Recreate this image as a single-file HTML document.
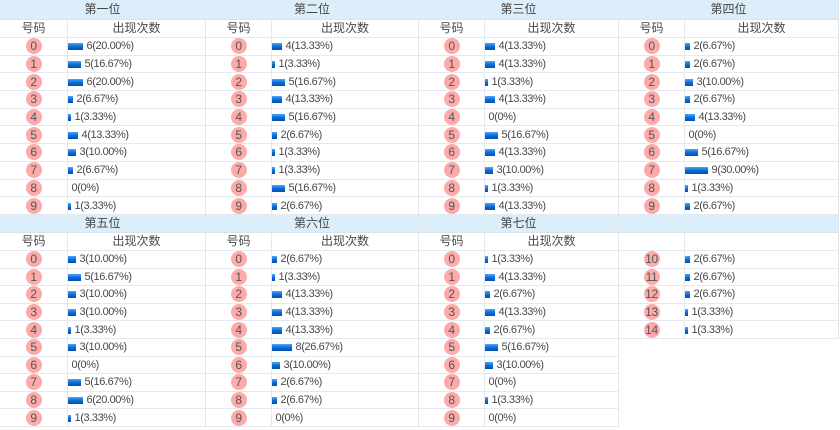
<!DOCTYPE html>
<html><head><meta charset="utf-8">
<style>
*{margin:0;padding:0}
html,body{width:840px;height:430px;background:#fff;overflow:hidden}
body{position:relative;font-family:"Liberation Sans","Noto Sans CJK SC",sans-serif;color:#484848}
.s{position:absolute;box-sizing:border-box;border-right:1px solid #dfe7ef}
.h{height:20px;background:#ddeefb;border-bottom:1px solid #d6e4ef;box-sizing:border-box;text-align:center;line-height:19px;font-size:12px;color:#444}
.b2 .h{height:18px;line-height:17px}
.c{height:18px;display:flex;border-bottom:1px solid #e2e9f0;box-sizing:border-box;font-size:12px;line-height:17px}
.c .n{justify-content:center}
.c .v{justify-content:center}
.r{height:17.7px;display:flex;border-bottom:1px solid #e2e9f0;box-sizing:border-box}
.b2 .r{height:17.6px}
.n{width:66px;flex:none;border-right:1px solid #e2e9f0;display:flex;align-items:center;justify-content:center;box-sizing:border-box}
.s1 .n{width:68px}
.n i{display:block;width:16px;height:16px;border-radius:50%;background:#fcaaaa;font-style:normal;font-size:12px;line-height:16px;text-align:center;color:#555;letter-spacing:-0.3px}
.v{flex:1;display:flex;align-items:center;font-size:11px;letter-spacing:-0.4px;white-space:nowrap}
.v b{display:block;height:7px;margin-top:1px;background:linear-gradient(#4aa6ff,#0b6cd8 50%,#0650a6)}
.v span{margin-left:3.5px}
</style></head><body>

<!-- Block 1 -->
<div class="s s1" style="left:0;top:0;width:206px">
<div class="h">第一位</div>
<div class="c"><div class="n">号码</div><div class="v" style="font-size:12px;letter-spacing:0">出现次数</div></div>
<div class="r"><div class="n"><i>0</i></div><div class="v"><b style="width:15px"></b><span>6(20.00%)</span></div></div>
<div class="r"><div class="n"><i>1</i></div><div class="v"><b style="width:13px"></b><span>5(16.67%)</span></div></div>
<div class="r"><div class="n"><i>2</i></div><div class="v"><b style="width:15px"></b><span>6(20.00%)</span></div></div>
<div class="r"><div class="n"><i>3</i></div><div class="v"><b style="width:5px"></b><span>2(6.67%)</span></div></div>
<div class="r"><div class="n"><i>4</i></div><div class="v"><b style="width:3px"></b><span>1(3.33%)</span></div></div>
<div class="r"><div class="n"><i>5</i></div><div class="v"><b style="width:10px"></b><span>4(13.33%)</span></div></div>
<div class="r"><div class="n"><i>6</i></div><div class="v"><b style="width:8px"></b><span>3(10.00%)</span></div></div>
<div class="r"><div class="n"><i>7</i></div><div class="v"><b style="width:5px"></b><span>2(6.67%)</span></div></div>
<div class="r"><div class="n"><i>8</i></div><div class="v"><b style="width:0px"></b><span>0(0%)</span></div></div>
<div class="r"><div class="n"><i>9</i></div><div class="v"><b style="width:3px"></b><span>1(3.33%)</span></div></div>
</div>

<div class="s" style="left:206px;top:0;width:213px">
<div class="h">第二位</div>
<div class="c"><div class="n">号码</div><div class="v" style="font-size:12px;letter-spacing:0">出现次数</div></div>
<div class="r"><div class="n"><i>0</i></div><div class="v"><b style="width:10px"></b><span>4(13.33%)</span></div></div>
<div class="r"><div class="n"><i>1</i></div><div class="v"><b style="width:3px"></b><span>1(3.33%)</span></div></div>
<div class="r"><div class="n"><i>2</i></div><div class="v"><b style="width:13px"></b><span>5(16.67%)</span></div></div>
<div class="r"><div class="n"><i>3</i></div><div class="v"><b style="width:10px"></b><span>4(13.33%)</span></div></div>
<div class="r"><div class="n"><i>4</i></div><div class="v"><b style="width:13px"></b><span>5(16.67%)</span></div></div>
<div class="r"><div class="n"><i>5</i></div><div class="v"><b style="width:5px"></b><span>2(6.67%)</span></div></div>
<div class="r"><div class="n"><i>6</i></div><div class="v"><b style="width:3px"></b><span>1(3.33%)</span></div></div>
<div class="r"><div class="n"><i>7</i></div><div class="v"><b style="width:3px"></b><span>1(3.33%)</span></div></div>
<div class="r"><div class="n"><i>8</i></div><div class="v"><b style="width:13px"></b><span>5(16.67%)</span></div></div>
<div class="r"><div class="n"><i>9</i></div><div class="v"><b style="width:5px"></b><span>2(6.67%)</span></div></div>
</div>

<div class="s" style="left:419px;top:0;width:200px">
<div class="h">第三位</div>
<div class="c"><div class="n">号码</div><div class="v" style="font-size:12px;letter-spacing:0">出现次数</div></div>
<div class="r"><div class="n"><i>0</i></div><div class="v"><b style="width:10px"></b><span>4(13.33%)</span></div></div>
<div class="r"><div class="n"><i>1</i></div><div class="v"><b style="width:10px"></b><span>4(13.33%)</span></div></div>
<div class="r"><div class="n"><i>2</i></div><div class="v"><b style="width:3px"></b><span>1(3.33%)</span></div></div>
<div class="r"><div class="n"><i>3</i></div><div class="v"><b style="width:10px"></b><span>4(13.33%)</span></div></div>
<div class="r"><div class="n"><i>4</i></div><div class="v"><b style="width:0px"></b><span>0(0%)</span></div></div>
<div class="r"><div class="n"><i>5</i></div><div class="v"><b style="width:13px"></b><span>5(16.67%)</span></div></div>
<div class="r"><div class="n"><i>6</i></div><div class="v"><b style="width:10px"></b><span>4(13.33%)</span></div></div>
<div class="r"><div class="n"><i>7</i></div><div class="v"><b style="width:8px"></b><span>3(10.00%)</span></div></div>
<div class="r"><div class="n"><i>8</i></div><div class="v"><b style="width:3px"></b><span>1(3.33%)</span></div></div>
<div class="r"><div class="n"><i>9</i></div><div class="v"><b style="width:10px"></b><span>4(13.33%)</span></div></div>
</div>

<div class="s" style="left:619px;top:0;width:220px">
<div class="h">第四位</div>
<div class="c"><div class="n">号码</div><div class="v" style="font-size:12px;letter-spacing:0">出现次数</div></div>
<div class="r"><div class="n"><i>0</i></div><div class="v"><b style="width:5px"></b><span>2(6.67%)</span></div></div>
<div class="r"><div class="n"><i>1</i></div><div class="v"><b style="width:5px"></b><span>2(6.67%)</span></div></div>
<div class="r"><div class="n"><i>2</i></div><div class="v"><b style="width:8px"></b><span>3(10.00%)</span></div></div>
<div class="r"><div class="n"><i>3</i></div><div class="v"><b style="width:5px"></b><span>2(6.67%)</span></div></div>
<div class="r"><div class="n"><i>4</i></div><div class="v"><b style="width:10px"></b><span>4(13.33%)</span></div></div>
<div class="r"><div class="n"><i>5</i></div><div class="v"><b style="width:0px"></b><span>0(0%)</span></div></div>
<div class="r"><div class="n"><i>6</i></div><div class="v"><b style="width:13px"></b><span>5(16.67%)</span></div></div>
<div class="r"><div class="n"><i>7</i></div><div class="v"><b style="width:23px"></b><span>9(30.00%)</span></div></div>
<div class="r"><div class="n"><i>8</i></div><div class="v"><b style="width:3px"></b><span>1(3.33%)</span></div></div>
<div class="r"><div class="n"><i>9</i></div><div class="v"><b style="width:5px"></b><span>2(6.67%)</span></div></div>
</div>

<!-- Block 2 -->
<div class="s s1 b2" style="left:0;top:215px;width:206px">
<div class="h">第五位</div>
<div class="c"><div class="n">号码</div><div class="v" style="font-size:12px;letter-spacing:0">出现次数</div></div>
<div class="r"><div class="n"><i>0</i></div><div class="v"><b style="width:8px"></b><span>3(10.00%)</span></div></div>
<div class="r"><div class="n"><i>1</i></div><div class="v"><b style="width:13px"></b><span>5(16.67%)</span></div></div>
<div class="r"><div class="n"><i>2</i></div><div class="v"><b style="width:8px"></b><span>3(10.00%)</span></div></div>
<div class="r"><div class="n"><i>3</i></div><div class="v"><b style="width:8px"></b><span>3(10.00%)</span></div></div>
<div class="r"><div class="n"><i>4</i></div><div class="v"><b style="width:3px"></b><span>1(3.33%)</span></div></div>
<div class="r"><div class="n"><i>5</i></div><div class="v"><b style="width:8px"></b><span>3(10.00%)</span></div></div>
<div class="r"><div class="n"><i>6</i></div><div class="v"><b style="width:0px"></b><span>0(0%)</span></div></div>
<div class="r"><div class="n"><i>7</i></div><div class="v"><b style="width:13px"></b><span>5(16.67%)</span></div></div>
<div class="r"><div class="n"><i>8</i></div><div class="v"><b style="width:15px"></b><span>6(20.00%)</span></div></div>
<div class="r"><div class="n"><i>9</i></div><div class="v"><b style="width:3px"></b><span>1(3.33%)</span></div></div>
</div>

<div class="s b2" style="left:206px;top:215px;width:213px">
<div class="h">第六位</div>
<div class="c"><div class="n">号码</div><div class="v" style="font-size:12px;letter-spacing:0">出现次数</div></div>
<div class="r"><div class="n"><i>0</i></div><div class="v"><b style="width:5px"></b><span>2(6.67%)</span></div></div>
<div class="r"><div class="n"><i>1</i></div><div class="v"><b style="width:3px"></b><span>1(3.33%)</span></div></div>
<div class="r"><div class="n"><i>2</i></div><div class="v"><b style="width:10px"></b><span>4(13.33%)</span></div></div>
<div class="r"><div class="n"><i>3</i></div><div class="v"><b style="width:10px"></b><span>4(13.33%)</span></div></div>
<div class="r"><div class="n"><i>4</i></div><div class="v"><b style="width:10px"></b><span>4(13.33%)</span></div></div>
<div class="r"><div class="n"><i>5</i></div><div class="v"><b style="width:20px"></b><span>8(26.67%)</span></div></div>
<div class="r"><div class="n"><i>6</i></div><div class="v"><b style="width:8px"></b><span>3(10.00%)</span></div></div>
<div class="r"><div class="n"><i>7</i></div><div class="v"><b style="width:5px"></b><span>2(6.67%)</span></div></div>
<div class="r"><div class="n"><i>8</i></div><div class="v"><b style="width:5px"></b><span>2(6.67%)</span></div></div>
<div class="r"><div class="n"><i>9</i></div><div class="v"><b style="width:0px"></b><span>0(0%)</span></div></div>
</div>

<div class="s b2" style="left:419px;top:215px;width:200px">
<div class="h">第七位</div>
<div class="c"><div class="n">号码</div><div class="v" style="font-size:12px;letter-spacing:0">出现次数</div></div>
<div class="r"><div class="n"><i>0</i></div><div class="v"><b style="width:3px"></b><span>1(3.33%)</span></div></div>
<div class="r"><div class="n"><i>1</i></div><div class="v"><b style="width:10px"></b><span>4(13.33%)</span></div></div>
<div class="r"><div class="n"><i>2</i></div><div class="v"><b style="width:5px"></b><span>2(6.67%)</span></div></div>
<div class="r"><div class="n"><i>3</i></div><div class="v"><b style="width:10px"></b><span>4(13.33%)</span></div></div>
<div class="r"><div class="n"><i>4</i></div><div class="v"><b style="width:5px"></b><span>2(6.67%)</span></div></div>
<div class="r"><div class="n"><i>5</i></div><div class="v"><b style="width:13px"></b><span>5(16.67%)</span></div></div>
<div class="r"><div class="n"><i>6</i></div><div class="v"><b style="width:8px"></b><span>3(10.00%)</span></div></div>
<div class="r"><div class="n"><i>7</i></div><div class="v"><b style="width:0px"></b><span>0(0%)</span></div></div>
<div class="r"><div class="n"><i>8</i></div><div class="v"><b style="width:3px"></b><span>1(3.33%)</span></div></div>
<div class="r"><div class="n"><i>9</i></div><div class="v"><b style="width:0px"></b><span>0(0%)</span></div></div>
</div>

<div class="s b2" style="left:619px;top:215px;width:220px">
<div class="h"></div>
<div class="c"><div class="n"></div><div class="v"></div></div>
<div class="r"><div class="n"><i>10</i></div><div class="v"><b style="width:5px"></b><span>2(6.67%)</span></div></div>
<div class="r"><div class="n"><i>11</i></div><div class="v"><b style="width:5px"></b><span>2(6.67%)</span></div></div>
<div class="r"><div class="n"><i>12</i></div><div class="v"><b style="width:5px"></b><span>2(6.67%)</span></div></div>
<div class="r"><div class="n"><i>13</i></div><div class="v"><b style="width:3px"></b><span>1(3.33%)</span></div></div>
<div class="r"><div class="n"><i>14</i></div><div class="v"><b style="width:3px"></b><span>1(3.33%)</span></div></div>
</div>

</body></html>
